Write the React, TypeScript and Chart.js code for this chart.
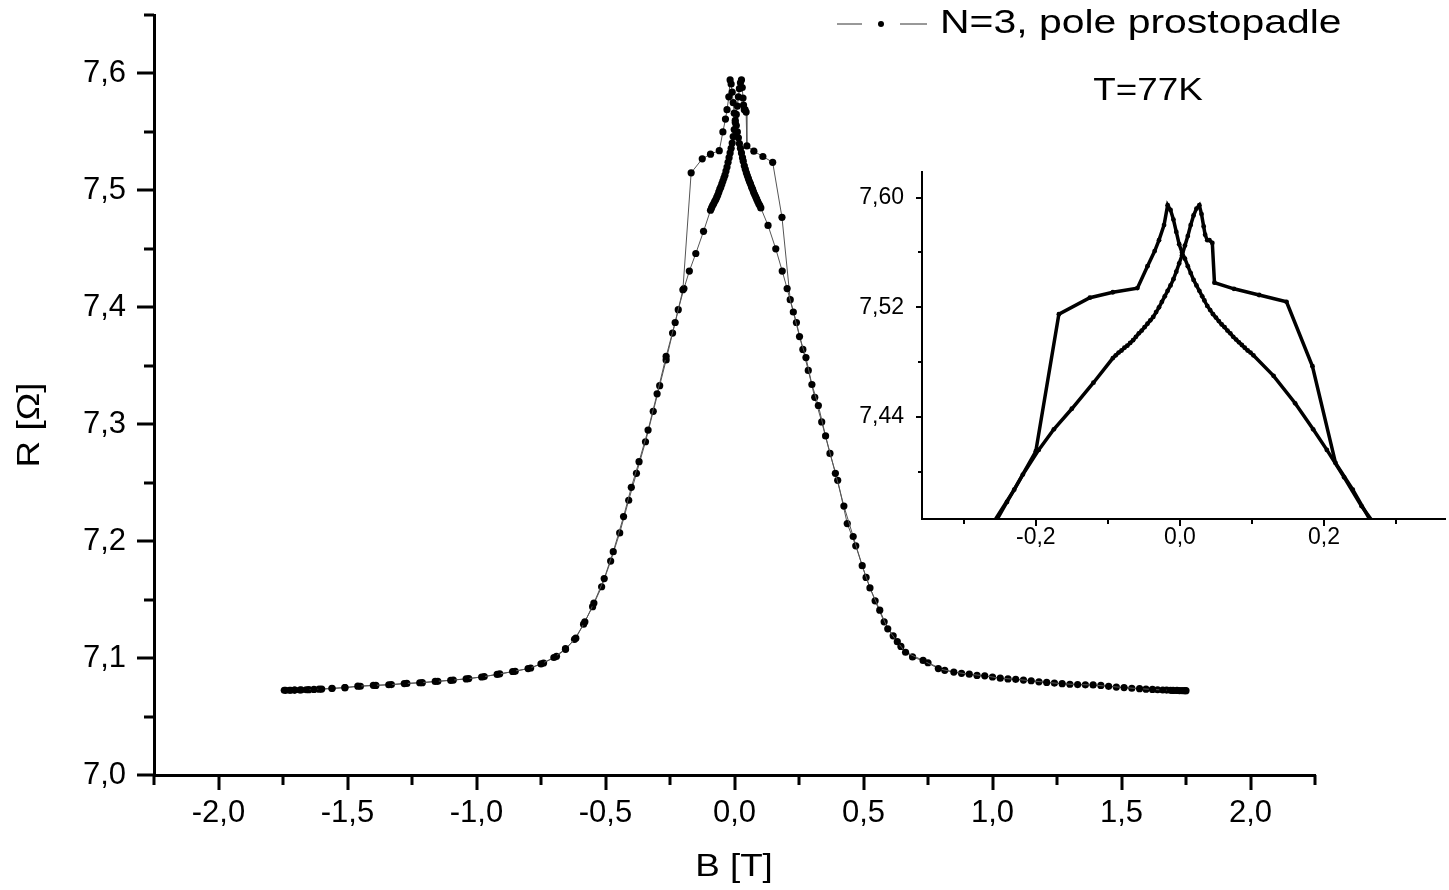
import React, { useEffect, useRef } from 'react';
import { Chart, registerables } from 'chart.js';

Chart.register(...registerables);

// ---------- data: sweep up (B from -1.75 T to +1.75 T) ----------
const fieldUp = [
  -1.745, -1.725, -1.705, -1.685, -1.66, -1.63, -1.6, -1.56, -1.51, -1.46, -1.4, -1.34, -1.28, -1.22,
  -1.16, -1.1, -1.04, -0.98, -0.92, -0.86, -0.8, -0.75, -0.7, -0.655, -0.615, -0.58, -0.545, -0.505,
  -0.47, -0.43, -0.4, -0.37, -0.335, -0.3, -0.265, -0.23, -0.2, -0.168, -0.125, -0.093, -0.059,
  -0.045, -0.035, -0.029, -0.022, -0.017, -0.013, -0.009, -0.005, -0.001, 0.003, 0.007, 0.011, 0.015,
  0.019, 0.023, 0.027, 0.031, 0.034, 0.038, 0.042, 0.046, 0.05, 0.054, 0.058, 0.062, 0.066, 0.07,
  0.074, 0.078, 0.082, 0.086, 0.09, 0.094, 0.098, 0.102, 0.13, 0.16, 0.185, 0.204, 0.228, 0.252,
  0.277, 0.3, 0.325, 0.353, 0.391, 0.424, 0.46, 0.495, 0.525, 0.563, 0.594, 0.631, 0.663, 0.731,
  0.79, 0.85, 0.91, 0.97, 1.03, 1.09, 1.15, 1.21, 1.27, 1.33, 1.39, 1.45, 1.51, 1.57, 1.62, 1.66,
  1.69, 1.715, 1.735, 1.75,
];
const resUp = [
  7.0725, 7.0725, 7.0726, 7.0727, 7.0729, 7.0732, 7.0735, 7.0741, 7.0748, 7.076, 7.0767, 7.0772, 7.0782, 7.0789,
  7.08, 7.081, 7.0822, 7.0838, 7.086, 7.0885, 7.091, 7.095, 7.1005, 7.108, 7.117, 7.131, 7.147, 7.168,
  7.191, 7.221, 7.246, 7.268, 7.295, 7.326, 7.358, 7.387, 7.415, 7.515, 7.527, 7.531, 7.534,
  7.55, 7.561, 7.569, 7.58, 7.5945, 7.591, 7.584, 7.575, 7.566, 7.56, 7.5555, 7.55, 7.545,
  7.54, 7.536, 7.532, 7.528, 7.525, 7.521, 7.518, 7.515, 7.5125, 7.51, 7.5075, 7.5055, 7.503, 7.501,
  7.4985, 7.4965, 7.4945, 7.4925, 7.4905, 7.4885, 7.487, 7.485, 7.47, 7.45, 7.431, 7.416, 7.396, 7.375,
  7.357, 7.334, 7.316, 7.29, 7.258, 7.23, 7.204, 7.179, 7.16, 7.141, 7.125, 7.114, 7.105, 7.098,
  7.091, 7.088, 7.0862, 7.0848, 7.0828, 7.0818, 7.0806, 7.0792, 7.0781, 7.0773, 7.077, 7.0758, 7.0748, 7.0738, 7.0732, 7.0727,
  7.0724, 7.0723, 7.0722, 7.0721,
];

// ---------- data: sweep down (B from +1.75 T to -1.75 T), listed by field ----------
const fieldDown = [
  -1.74, -1.72, -1.705, -1.68, -1.65, -1.61, -1.56, -1.51, -1.45, -1.39, -1.33, -1.27, -1.21, -1.15,
  -1.09, -1.03, -0.97, -0.91, -0.85, -0.79, -0.74, -0.69, -0.655, -0.62, -0.585, -0.55, -0.515, -0.48,
  -0.445, -0.41, -0.38, -0.345, -0.315, -0.29, -0.265, -0.24, -0.218, -0.196, -0.175, -0.15, -0.12,
  -0.093, -0.089, -0.085, -0.081, -0.077, -0.073, -0.069, -0.065, -0.061, -0.057, -0.053, -0.049,
  -0.045, -0.041, -0.037, -0.033, -0.029, -0.025, -0.021, -0.017, -0.013, -0.009, -0.005, -0.001,
  0.003, 0.007, 0.011, 0.015, 0.019, 0.023, 0.027, 0.03, 0.033, 0.035, 0.038, 0.041, 0.045, 0.048,
  0.075, 0.11, 0.148, 0.184, 0.216, 0.24, 0.265, 0.286, 0.311, 0.338, 0.37, 0.4, 0.437, 0.47, 0.51,
  0.545, 0.58, 0.615, 0.645, 0.69, 0.75, 0.815, 0.88, 0.94, 1.0, 1.06, 1.12, 1.18, 1.24, 1.3, 1.36,
  1.42, 1.48, 1.54, 1.595, 1.64, 1.675, 1.7, 1.725, 1.745,
];
const resDown = [
  7.0724, 7.0725, 7.0726, 7.0728, 7.073, 7.0734, 7.074, 7.0747, 7.0759, 7.0766, 7.0773, 7.0783, 7.079, 7.0801,
  7.0812, 7.0825, 7.0842, 7.0865, 7.0887, 7.0915, 7.0958, 7.1015, 7.1075, 7.116, 7.129, 7.144, 7.161, 7.183,
  7.207, 7.235, 7.258, 7.285, 7.311, 7.333, 7.355, 7.378, 7.398, 7.416, 7.431, 7.446, 7.465,
  7.483, 7.485, 7.487, 7.4885, 7.4905, 7.492, 7.494, 7.496, 7.4985, 7.501, 7.503, 7.5055,
  7.508, 7.5105, 7.513, 7.5165, 7.52, 7.524, 7.528, 7.532, 7.536, 7.5405, 7.546, 7.552,
  7.558, 7.565, 7.572, 7.58, 7.587, 7.592, 7.5945, 7.588, 7.579, 7.573, 7.569, 7.569, 7.567, 7.538,
  7.5335, 7.529, 7.524, 7.477, 7.4065, 7.387, 7.364, 7.346, 7.323, 7.302, 7.275, 7.252, 7.215, 7.196, 7.169,
  7.149, 7.131, 7.119, 7.11, 7.101, 7.096, 7.0895, 7.087, 7.0852, 7.0838, 7.0822, 7.0812, 7.0797, 7.0786, 7.0776, 7.0771,
  7.0766, 7.0752, 7.0742, 7.0734, 7.0729, 7.0726, 7.0723, 7.0722, 7.0721,
];

// ---------- axes / labels ----------
const mainXMajor = [-2.0, -1.5, -1.0, -0.5, 0.0, 0.5, 1.0, 1.5, 2.0];
const mainXMinor = [-2.25, -1.75, -1.25, -0.75, -0.25, 0.25, 0.75, 1.25, 1.75, 2.25];
const mainYMajor = [7.0, 7.1, 7.2, 7.3, 7.4, 7.5, 7.6];
const mainYMinor = [7.05, 7.15, 7.25, 7.35, 7.45, 7.55, 7.65];
const insetXMajor = [-0.2, 0.0, 0.2];
const insetXMinor = [-0.3, -0.1, 0.1, 0.3];
const insetYMajor = [7.44, 7.52, 7.6];
const insetYMinor = [7.4, 7.48, 7.56];
const xTitle = 'B [T]';
const yTitle = 'R [Ω]';
const legendLabel = 'N=3, pole prostopadle';
const tempLabel = 'T=77K';

const FONT = '"Liberation Sans", Arial, sans-serif';

const toPoints = (xs: number[], ys: number[]) => xs.map((x, i) => ({ x, y: ys[i] }));
const comma = (v: number, d: number) => v.toFixed(d).replace('.', ',');

const tickPlugin = {
  id: 'axisTicks',
  afterDraw(chart: any, _args: any, opts: any) {
    const { ctx, chartArea } = chart;
    const xs = chart.scales.x;
    const ys = chart.scales.y;
    ctx.save();
    ctx.strokeStyle = '#000';
    ctx.lineWidth = opts.width;
    ctx.beginPath();
    const xt = (vals: number[], len: number) =>
      vals.forEach((v) => {
        const p = Math.round(xs.getPixelForValue(v));
        ctx.moveTo(p, chartArea.bottom);
        ctx.lineTo(p, chartArea.bottom + len);
      });
    const yt = (vals: number[], len: number) =>
      vals.forEach((v) => {
        const p = Math.round(ys.getPixelForValue(v));
        ctx.moveTo(chartArea.left, p);
        ctx.lineTo(chartArea.left - len, p);
      });
    xt(opts.xMajor, opts.xMajorLen);
    xt(opts.xMinor, opts.xMinorLen);
    yt(opts.yMajor, opts.yMajorLen);
    yt(opts.yMinor, opts.yMinorLen);
    ctx.stroke();
    ctx.restore();
  },
};

function drawText(ctx: any, text: string, x: number, y: number, size: number, sx: number, align: string, rot = 0) {
  ctx.save();
  ctx.font = `${size}px ${FONT}`;
  ctx.fillStyle = '#000';
  ctx.textBaseline = 'middle';
  ctx.textAlign = align;
  ctx.translate(x, y);
  if (rot) ctx.rotate(rot);
  ctx.scale(sx, 1);
  ctx.fillText(text, 0, 0);
  ctx.restore();
}

const annotPlugin = {
  id: 'annot',
  afterDraw(chart: any) {
    const { ctx } = chart;
    drawText(ctx, yTitle, 30, 425, 32, 1.15, 'center', -Math.PI / 2);
    drawText(ctx, xTitle, 734, 867, 32, 1.15, 'center');
    ctx.save();
    ctx.strokeStyle = '#333';
    ctx.lineWidth = 1;
    ctx.beginPath();
    ctx.moveTo(837, 24);
    ctx.lineTo(862, 24);
    ctx.moveTo(900, 24);
    ctx.lineTo(927, 24);
    ctx.stroke();
    ctx.fillStyle = '#000';
    ctx.beginPath();
    ctx.arc(881, 24, 3, 0, Math.PI * 2);
    ctx.fill();
    ctx.restore();
    drawText(ctx, legendLabel, 940, 24, 33, 1.24, 'left');
    drawText(ctx, tempLabel, 1148, 91, 32, 1.15, 'center');
  },
};

function makeScales(o: any) {
  return {
    x: {
      type: 'linear',
      min: o.xMin,
      max: o.xMax,
      afterBuildTicks: (s: any) => {
        s.ticks = o.xMajor.map((v: number) => ({ value: v }));
      },
      afterFit: (s: any) => {
        s.height = o.xHeight;
        s.paddingLeft = 0;
        s.paddingRight = 0;
        s.paddingTop = 0;
        s.paddingBottom = 0;
      },
      grid: { display: false, drawTicks: false },
      border: { display: true, color: '#000', width: o.axisWidth },
      ticks: {
        color: '#000',
        padding: o.xPad,
        maxRotation: 0,
        autoSkip: false,
        font: { family: FONT, size: o.fontSize, lineHeight: 1 },
        callback: (v: number) => comma(v, o.xDec),
      },
    },
    y: {
      type: 'linear',
      min: o.yMin,
      max: o.yMax,
      afterBuildTicks: (s: any) => {
        s.ticks = o.yMajor.map((v: number) => ({ value: v }));
      },
      afterFit: (s: any) => {
        s.width = o.yWidth;
        s.paddingLeft = 0;
        s.paddingRight = 0;
        s.paddingTop = 0;
        s.paddingBottom = 0;
      },
      grid: { display: false, drawTicks: false },
      border: { display: true, color: '#000', width: o.axisWidth },
      ticks: {
        color: '#000',
        padding: o.yPad,
        autoSkip: false,
        font: { family: FONT, size: o.fontSize, lineHeight: 0.9 },
        callback: (v: number) => comma(v, o.yDec),
      },
    },
  };
}

export default function App() {
  const mainRef = useRef<HTMLCanvasElement>(null);
  const insetRef = useRef<HTMLCanvasElement>(null);

  useEffect(() => {
    const up = toPoints(fieldUp, resUp);
    const down = toPoints(fieldDown, resDown);

    const main = new Chart(mainRef.current as HTMLCanvasElement, {
      type: 'scatter',
      data: {
        datasets: [
          { label: 'up', data: up, showLine: true, borderColor: '#555', borderWidth: 1, pointRadius: 3.6, pointBorderWidth: 0, pointBackgroundColor: '#000' },
          { label: 'down', data: down, showLine: true, borderColor: '#555', borderWidth: 1, pointRadius: 3.6, pointBorderWidth: 0, pointBackgroundColor: '#000' },
        ],
      },
      options: {
        responsive: false,
        animation: false,
        events: [],
        layout: { padding: { left: 0, top: 15, right: 134, bottom: 0 } },
        scales: makeScales({
          xMin: -2.25, xMax: 2.25, yMin: 7.0, yMax: 7.65,
          xMajor: mainXMajor, yMajor: mainYMajor,
          xHeight: 115, yWidth: 154, axisWidth: 3, fontSize: 31,
          xPad: 23, yPad: 28, xDec: 1, yDec: 1,
        }) as any,
        plugins: {
          legend: { display: false },
          tooltip: { enabled: false },
          axisTicks: {
            width: 3,
            xMajor: mainXMajor, xMinor: mainXMinor, yMajor: mainYMajor, yMinor: mainYMinor,
            xMajorLen: 15, xMinorLen: 10, yMajorLen: 17, yMinorLen: 10,
          },
        } as any,
      },
      plugins: [tickPlugin, annotPlugin],
    });

    const inset = new Chart(insetRef.current as HTMLCanvasElement, {
      type: 'scatter',
      data: {
        datasets: [
          { label: 'up', data: up, showLine: true, borderColor: '#000', borderWidth: 3.5, pointRadius: 2.4, pointBorderWidth: 0, pointBackgroundColor: '#000' },
          { label: 'down', data: down, showLine: true, borderColor: '#000', borderWidth: 3.5, pointRadius: 2.4, pointBorderWidth: 0, pointBackgroundColor: '#000' },
        ],
      },
      options: {
        responsive: false,
        animation: false,
        events: [],
        layout: { padding: { left: 0, top: 12, right: 0, bottom: 0 } },
        scales: makeScales({
          xMin: -0.358, xMax: 0.368, yMin: 7.3656, yMax: 7.6187,
          xMajor: insetXMajor, yMajor: insetYMajor,
          xHeight: 51, yWidth: 82, axisWidth: 2, fontSize: 23,
          xPad: 7, yPad: 18, xDec: 1, yDec: 2,
        }) as any,
        plugins: {
          legend: { display: false },
          tooltip: { enabled: false },
          axisTicks: {
            width: 2,
            xMajor: insetXMajor, xMinor: insetXMinor, yMajor: insetYMajor, yMinor: insetYMinor,
            xMajorLen: 7, xMinorLen: 5, yMajorLen: 6, yMinorLen: 4,
          },
        } as any,
      },
      plugins: [tickPlugin],
    });

    return () => {
      main.destroy();
      inset.destroy();
    };
  }, []);

  return (
    <div style={{ position: 'fixed', left: 0, top: 0, width: 1449, height: 890, background: '#fff', overflow: 'hidden' }}>
      <canvas ref={mainRef} width={1449} height={890} style={{ position: 'absolute', left: 0, top: 0, width: 1449, height: 890 }} />
      <canvas ref={insetRef} width={609} height={410} style={{ position: 'absolute', left: 840, top: 160, width: 609, height: 410 }} />
    </div>
  );
}
